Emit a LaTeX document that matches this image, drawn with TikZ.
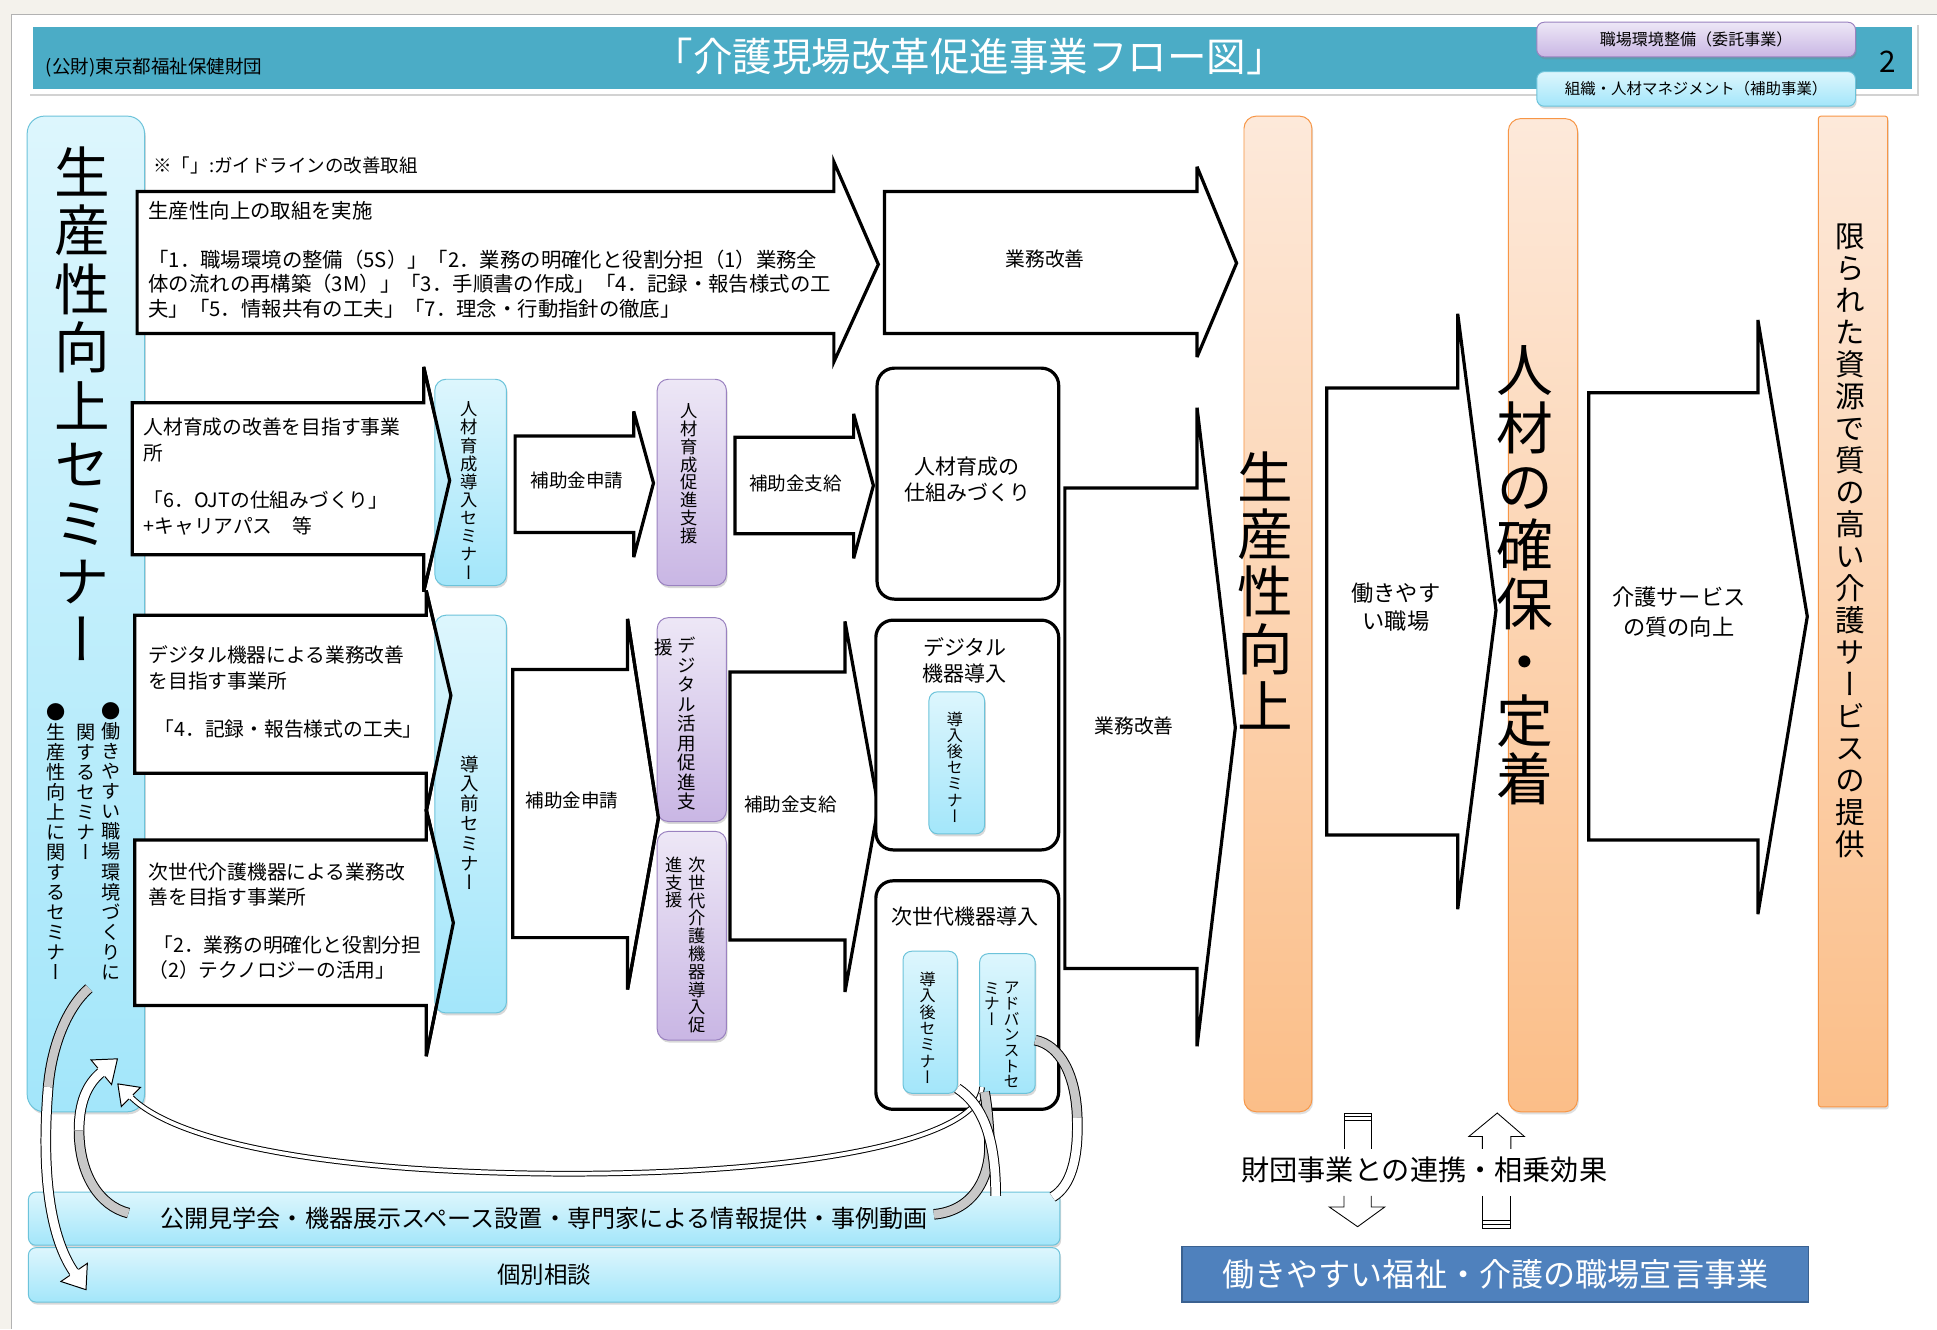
\documentclass[tikz,border=0pt]{standalone}
\usepackage{fontspec}
\setmainfont{Noto Sans CJK JP}
\newfontfamily\tatefont[RawFeature=+vert]{Noto Sans CJK JP}
\usepackage{tikz}
\usetikzlibrary{shadows,decorations.markings}

\definecolor{pagebg}{HTML}{F4F2EC}
\definecolor{hdrteal}{HTML}{4BACC6}
\definecolor{cyantop}{HTML}{DDF6FD}
\definecolor{cyanbot}{HTML}{A3E6FA}
\definecolor{cyanedge}{HTML}{6CC3DA}
\definecolor{purtop}{HTML}{EDE7F6}
\definecolor{purbot}{HTML}{C9B6E4}
\definecolor{puredge}{HTML}{9A82C0}
\definecolor{orgtop}{HTML}{FDE9DA}
\definecolor{orgbot}{HTML}{FBBE88}
\definecolor{orgedge}{HTML}{F79646}
\definecolor{declblue}{HTML}{4F81BD}
\definecolor{decledge}{HTML}{3A6190}
\definecolor{bandgray}{HTML}{C8C8C8}

\newcommand{\fs}[2]{\fontsize{#1}{#2}\selectfont}
% vertical writing: one character per line
\newcommand{\tate}[1]{\tatefirst#1\relax}
\def\tatefirst#1{#1\tatenext}
\def\tatenext#1{\ifx\relax#1\expandafter\tatestop\else\expandafter\tatemore\fi#1}
\def\tatestop#1{}
\def\tatemore#1{\\#1\tatenext}

\tikzset{
    %Define style for boxes
    cyanbox/.style={
           rectangle, rounded corners=9pt,
           draw=cyanedge, line width=0.8pt,
           top color=cyantop, bottom color=cyanbot,
           inner sep=0pt,
           drop shadow={opacity=0.3, shadow xshift=1pt, shadow yshift=-2pt}},
    purplebox/.style={
           rectangle, rounded corners=9pt,
           draw=puredge, line width=0.8pt,
           top color=purtop, bottom color=purbot,
           inner sep=0pt,
           drop shadow={opacity=0.3, shadow xshift=1pt, shadow yshift=-2pt}},
    orangebox/.style={
           rectangle, rounded corners=10pt,
           draw=orgedge, line width=0.8pt,
           top color=orgtop, bottom color=orgbot,
           inner sep=0pt,
           drop shadow={opacity=0.25, shadow xshift=1pt, shadow yshift=-2pt}},
    roundbox/.style={
           rectangle, rounded corners=14pt,
           draw=black, line width=2.6pt,
           fill=white, inner sep=0pt},
    %Define style for block arrows
    blockarr/.style={draw=black, line width=2.6pt, fill=white,
           line join=miter, miter limit=5},
    blockline/.style={draw=black, line width=2.6pt,
           line join=miter, miter limit=5},
    hollow/.style={draw=black, line width=0.7pt, fill=white, line join=miter},
    %Define style for texts
    yoko/.style 2 args={font={\fs{#1}{#2}}, inner sep=0pt},
    tate/.style 2 args={font={\tatefont\fs{#1}{#2}}, align=center, inner sep=0pt},
    %Define style for curved bands
    band/.style={postaction={draw=black, line width=0.8pt,
           double=#1, double distance=7pt}},
    thinband/.style={postaction={draw=black, line width=0.8pt,
           double=white, double distance=3pt}},
    bighead/.style={postaction={decorate, decoration={markings,
           mark=at position 1 with {
             \fill[white] (-0.5,-13) -- (17,0) -- (-0.5,13) -- cycle;
             \draw[line width=0.8pt, line join=miter]
               (0,-4.3) -- (0,-13) -- (17,0) -- (0,13) -- (0,4.3);}}}},
    smallhead/.style={postaction={decorate, decoration={markings,
           mark=at position 1 with {
             \fill[white] (-0.5,-11) -- (15,0) -- (-0.5,11) -- cycle;
             \draw[line width=0.8pt, line join=miter]
               (0,-2.3) -- (0,-11) -- (15,0) -- (0,11) -- (0,2.3);}}}}
}

\begin{document}
\begin{tikzpicture}[x=1pt, y=-1pt]
\useasboundingbox (0,0) rectangle (1568,1076);
 %page
\fill[pagebg] (0,0) rectangle (1568,1076);
\fill[white] (9,12) rectangle (1568,1076);
\draw[black!30, line width=1pt] (9,1076) -- (9,12) -- (1568,12);

 %header
\node[fill=white, inner sep=0pt, minimum width=1529pt, minimum height=58pt,
      drop shadow={opacity=0.35, shadow xshift=1.5pt, shadow yshift=-2pt}] (hdrframe) at (787.5,47) {};
\node[fill=hdrteal, inner sep=0pt, minimum width=1521pt, minimum height=50pt] (hdr) at (787.5,47) {};
\node[yoko={32}{36}, text=white] (title) at (785,46) {「介護現場改革促進事業フロー図」};
\node[yoko={15}{17}, anchor=west] (zaidan) at (37,55) {(公財)東京都福祉保健財団};
\node[yoko={24}{28}] (pageno) at (1528,50) {2};
\node[purplebox, rounded corners=6pt, minimum width=258pt, minimum height=28pt, yoko={13}{15}] (itaku) at (1373,32) {職場環境整備（委託事業）};
\node[cyanbox, rounded corners=6pt, minimum width=258pt, minimum height=28pt, yoko={12.5}{15}] (hojo) at (1373,72) {組織・人材マネジメント（補助事業）};

 %left seminar column
\node[cyanbox, rounded corners=14pt, minimum width=95pt, minimum height=806pt] (semleft) at (69.5,497) {};

 %block arrows
\draw[blockarr] (111,155) -- (675,155) -- (675,131) -- (711,214) -- (675,293) -- (675,270) -- (111,270) -- cycle;
\draw[blockarr] (107,326) -- (343,326) -- (343,297) -- (364,389) -- (343,479) -- (343,449) -- (107,449) -- cycle;
\draw[blockarr] (109,498) -- (345,498) -- (345,478) -- (365,563) -- (345,657) -- (345,626) -- (109,626) -- cycle;
\draw[blockarr] (109,680) -- (345,680) -- (345,655) -- (367,747) -- (345,855) -- (345,814) -- (109,814) -- cycle;
\draw[blockarr] (417,353) -- (513,353) -- (513,333) -- (529,391) -- (513,451) -- (513,431) -- (417,431) -- cycle;
\draw[blockarr] (595,354) -- (691,354) -- (691,335) -- (707,393) -- (691,452) -- (691,432) -- (595,432) -- cycle;
\draw[blockarr] (415,542) -- (508,542) -- (508,501) -- (533,662) -- (508,801) -- (508,759) -- (415,759) -- cycle;
\draw[blockarr] (591,544) -- (684,544) -- (684,503) -- (711,653) -- (684,803) -- (684,761) -- (591,761) -- cycle;
\draw[blockarr] (716,155) -- (969,155) -- (969,135) -- (1001,213) -- (969,289) -- (969,270) -- (716,270) -- cycle;
\draw[blockarr] (862,395) -- (969,395) -- (969,330) -- (1000,589) -- (969,847) -- (969,784) -- (862,784) -- cycle;
\draw[blockarr] (1074,314) -- (1180,314) -- (1180,254) -- (1211,494) -- (1180,736) -- (1180,676) -- (1074,676) -- cycle;
\draw[blockarr] (1286,318) -- (1423,318) -- (1423,259) -- (1463,499) -- (1423,740) -- (1423,680) -- (1286,680) -- cycle;

 %seminar and support pills
\node[cyanbox, minimum width=58pt, minimum height=167pt] (semjin) at (381,390.5) {};
\node[cyanbox, minimum width=58pt, minimum height=322pt] (semmae) at (381,659) {};
\node[purplebox, minimum width=56pt, minimum height=167pt] (shienjin) at (560,390.5) {};
\node[purplebox, minimum width=56pt, minimum height=165pt] (shiendeji) at (560,582.5) {};
\node[purplebox, minimum width=56pt, minimum height=169pt] (shienjise) at (560,757.5) {};
\draw[blockline] (343,297) -- (364,389) -- (343,479);
\draw[blockline] (345,478) -- (365,563) -- (345,657);
\draw[blockline] (345,655) -- (367,747) -- (345,855);
\draw[blockline] (508,501) -- (533,662) -- (508,801);

 %result boxes
\node[roundbox, minimum width=147pt, minimum height=187pt] (boxjin) at (783.5,391.5) {};
\node[roundbox, minimum width=148pt, minimum height=186pt] (boxdeji) at (783,595) {};
\node[roundbox, minimum width=148pt, minimum height=185pt] (boxjise) at (783,805.5) {};
\node[cyanbox, rounded corners=7pt, minimum width=45pt, minimum height=115pt] (semgo1) at (774.5,617.5) {};
\node[cyanbox, rounded corners=7pt, minimum width=44pt, minimum height=115pt] (semgo2) at (753,827.5) {};
\node[cyanbox, rounded corners=7pt, minimum width=45pt, minimum height=113pt] (semadv) at (815.5,828.5) {};

 %goal columns
\node[orangebox, minimum width=55pt, minimum height=806pt] (goal1) at (1034.5,497) {};
\node[orangebox, minimum width=56pt, minimum height=804pt] (goal2) at (1249,498) {};
\node[orangebox, rounded corners=2pt, minimum width=56pt, minimum height=802pt] (goal3) at (1500,495) {};

 %texts
\node[tate={45}{47.3}] (semlefttxt) at (67,327) {\tate{生産性向上セミナー}};
\node[tate={15.5}{16.2}] (bul1) at (90,681) {\tate{●働きやすい職場環境づくりに}};
\node[tate={15.5}{16.2}] (bul1b) at (70,641) {\tate{関するセミナー}};
\node[tate={15.5}{16.2}] (bul2) at (45,681) {\tate{●生産性向上に関するセミナー}};

\node[yoko={15}{18}, anchor=west] (note) at (124,134) {※「」:ガイドラインの改善取組};
\node[yoko={16.5}{20}, align=left, anchor=west] (txtA) at (120,210.5) {生産性向上の取組を実施\\[19pt]「1．職場環境の整備（5S）」「2．業務の明確化と役割分担（1）業務全\\体の流れの再構築（3M）」「3．手順書の作成」「4．記録・報告様式の工\\夫」「5．情報共有の工夫」「7．理念・行動指針の徹底」};
\node[yoko={16}{20.5}, align=left, anchor=west] (txtB) at (116,385.7) {人材育成の改善を目指す事業\\所\\[18pt]「6．OJTの仕組みづくり」\\+キャリアパス　等};
\node[yoko={16}{21}, align=left, anchor=west] (txtC) at (120,560) {デジタル機器による業務改善\\を目指す事業所\\[18pt]\hspace*{5pt}「4．記録・報告様式の工夫」};
\node[yoko={16}{20}, align=left, anchor=west] (txtD) at (120,745.5) {次世代介護機器による業務改\\善を目指す事業所\\[19pt]\hspace*{4pt}「2．業務の明確化と役割分担\\（2）テクノロジーの活用」};

\node[tate={14}{14.7}] (semjintxt) at (380,397) {\tate{人材育成導入セミナー}};
\node[tate={15}{16}] (semmaetxt) at (380,666) {\tate{導入前セミナー}};
\node[tate={14}{14.4}] (shienjintxt) at (558,383.5) {\tate{人材育成促進支援}};
\node[tate={15}{15.8}] (shiendejitxt) at (556,586) {\tate{デジタル活用促進支}};
\node[tate={15}{15.8}] (shiendejitxtb) at (537,524) {援};
\node[tate={14}{14.4}] (shienjisetxt) at (564,765) {\tate{次世代介護機器導入促}};
\node[tate={14}{14.4}] (shienjisetxtb) at (546,714.5) {\tate{進支援}};

\node[yoko={15}{18}] (shinsei1) at (467,389) {補助金申請};
\node[yoko={15}{18}] (shikyu1) at (644,391) {補助金支給};
\node[yoko={15}{18}] (shinsei2) at (463,648) {補助金申請};
\node[yoko={15}{18}] (shikyu2) at (640,651) {補助金支給};

\node[yoko={17}{21}, align=center] (boxjintxt) at (783,388.5) {人材育成の\\仕組みづくり};
\node[yoko={17}{21}, align=center] (boxdejitxt) at (781,534.5) {デジタル\\機器導入};
\node[yoko={17}{21}] (boxjisetxt) at (781,742) {次世代機器導入};
\node[tate={13}{13}] (semgo1txt) at (773,621) {\tate{導入後セミナー}};
\node[tate={13}{13.3}] (semgo2txt) at (751,832) {\tate{導入後セミナー}};
\node[tate={13}{12.7}] (semadvtxt) at (819,838) {\tate{アドバンストセ}};
\node[tate={13}{12.7}] (semadvtxtb) at (803,812.7) {\tate{ミナー}};

\node[yoko={16}{19}] (kaizen1) at (846,210) {業務改善};
\node[yoko={16}{19}] (kaizen2) at (918,588) {業務改善};
\node[yoko={18}{23}, align=center] (hatarakiyasui) at (1130,491.5) {働きやす\\い職場};
\node[yoko={18}{25}, align=center] (shitsu) at (1359,495.5) {介護サービス\\の質の向上};

\node[tate={45}{46.5}] (goal1txt) at (1024,478) {\tate{生産性向上}};
\node[tate={46}{47.3}] (goal2txt) at (1234,465.6) {\tate{人材の確保・定着}};
\node[tate={24}{25.9}] (goal3txt) at (1498,438) {\tate{限られた資源で質の高い介護サービスの提供}};

 %bottom bars
\node[cyanbox, rounded corners=6pt, minimum width=835pt, minimum height=43pt, yoko={19.5}{22}] (openbar) at (440.5,986.5) {公開見学会・機器展示スペース設置・専門家による情報提供・事例動画};
\node[cyanbox, rounded corners=6pt, minimum width=835pt, minimum height=44pt, yoko={19}{22}] (soudan) at (440.5,1032) {個別相談};

 %curved arrows
\coordinate (p1tail) at (104,982);
\coordinate (p1mid) at (64,915);
\coordinate (p1end) at (82,868);
\path[band=bandgray] (p1tail) .. controls (80,976) and (64,950) .. (p1mid);
\path[band=white, bighead] (p1mid) .. controls (64,893) and (70,878) .. (p1end);

\coordinate (p2tail) at (72,800);
\coordinate (p2mid) at (39,880);
\coordinate (p2end) at (60,1030);
\path[band=bandgray] (p2tail) .. controls (55,815) and (42,845) .. (p2mid);
\path[band=white, bighead] (p2mid) .. controls (34,940) and (38,998) .. (p2end);

\coordinate (p4tail) at (795,880);
\coordinate (p4low) at (440,950);
\coordinate (p4end) at (106,888);
\path[thinband, smallhead] (p4tail) .. controls (792,925) and (640,952) .. (p4low) .. controls (260,948) and (142,924) .. (p4end);

\coordinate (p3tail) at (756,983);
\coordinate (p3bend) at (801,925);
\coordinate (p3top) at (797,884);
\coordinate (p3front) at (806,968);
\coordinate (p3end) at (775,881);
\path[band=bandgray] (p3tail) .. controls (790,980) and (802,950) .. (p3bend) .. controls (800,905) and (799,895) .. (p3top);
\path[band=white, bighead] (p3front) .. controls (806,922) and (796,895) .. (p3end);

\coordinate (p5tail) at (838,842);
\coordinate (p5mid) at (872,905);
\coordinate (p5end) at (852,969);
\path[band=bandgray] (p5tail) .. controls (858,846) and (871,870) .. (p5mid);
\path[band=white, bighead] (p5mid) .. controls (873,938) and (867,960) .. (p5end);

 %foundation link
\node[yoko={22.8}{26}] (renkei) at (1153,947) {財団事業との連携・相乗効果};
\draw[hollow] (1088,930) -- (1088,901) -- (1110,901) -- (1110,930);
\draw[line width=0.9pt] (1088,904) -- (1110,904) (1088,907) -- (1110,907);
\draw[hollow] (1088,968) -- (1088,977) -- (1076,977) -- (1099,993) -- (1121,977) -- (1110,977) -- (1110,968);
\draw[hollow] (1200,930) -- (1200,920) -- (1189,920) -- (1212,901) -- (1234,920) -- (1223,920) -- (1223,930);
\draw[hollow] (1200,968) -- (1200,994) -- (1223,994) -- (1223,968);
\draw[line width=0.9pt] (1200,988) -- (1223,988) (1200,991) -- (1223,991);
\node[fill=declblue, draw=decledge, line width=1.2pt, inner sep=0pt, minimum width=507pt, minimum height=45pt, yoko={26}{30}, text=white] (sengen) at (1210.5,1031.5) {働きやすい福祉・介護の職場宣言事業};
\end{tikzpicture}
\end{document}
